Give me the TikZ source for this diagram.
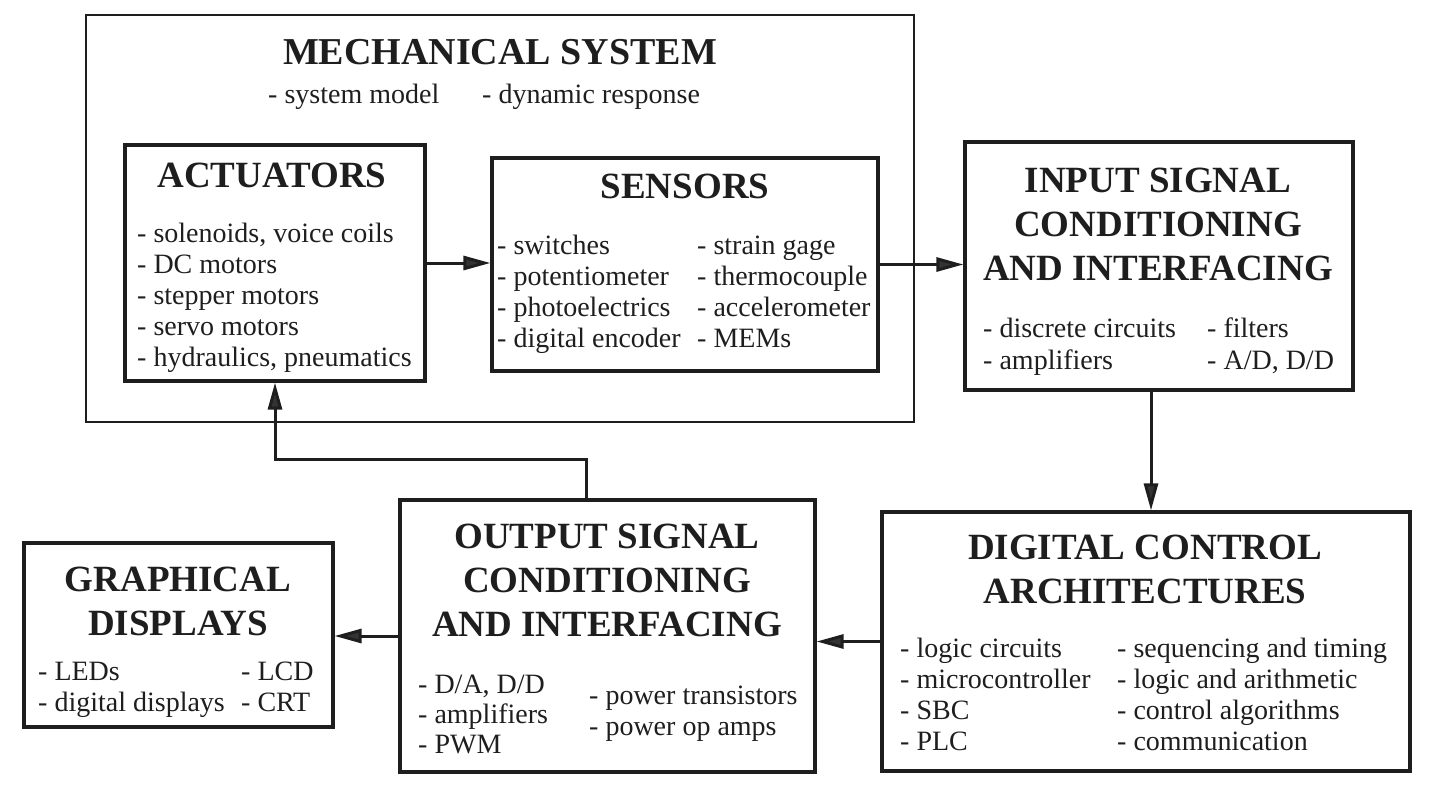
\documentclass[tikz,border=0pt]{standalone}
\usepackage{fontspec}
\setmainfont{Liberation Serif}
\usetikzlibrary{arrows.meta}
\definecolor{ink}{HTML}{1E1E1E}
\definecolor{headc}{HTML}{333333}
\begin{document}
\begin{tikzpicture}[x=1pt,y=-1pt,
  box/.style={draw=ink, line width=3.2pt, inner sep=0pt},
  mechbox/.style={draw=ink, line width=1.8pt, inner sep=0pt},
  ttl/.style={font=\fontsize{37}{44}\selectfont\bfseries, text=ink, inner sep=0pt, anchor=base},
  body/.style={font=\fontsize{28}{31}\selectfont, text=ink, inner sep=0pt, anchor=base west},
  arr/.style={draw=ink, line width=3pt, -{Triangle[length=27pt,width=14pt,fill=headc]}}]
\useasboundingbox (0,0) rectangle (1432,792);

% boxes
\node[mechbox, minimum width=828pt, minimum height=407pt] (mech) at (500,218.5) {};
\node[box, minimum width=300pt, minimum height=236pt] (act) at (275,263) {};
\node[box, minimum width=386pt, minimum height=213pt] (sen) at (685,264.5) {};
\node[box, minimum width=388pt, minimum height=248pt] (inp) at (1159,266) {};
\node[box, minimum width=528pt, minimum height=259pt] (dig) at (1146,641.5) {};
\node[box, minimum width=415pt, minimum height=272pt] (out) at (607.5,636) {};
\node[box, minimum width=309pt, minimum height=184pt] (gra) at (178.5,635) {};

% mechanical system texts
\node[ttl, font=\fontsize{38}{44}\selectfont\bfseries] (mechT) at (500,65) {MECHANICAL SYSTEM};
\node[body] (mechA) at (268,103) {- system model};
\node[body] (mechB) at (482,103) {- dynamic response};

% actuators
\node[ttl] (actT) at (272,187) {ACTUATORS};
\node[body] (actL) at (137,242) {\begin{tabular}[t]{@{}l@{}}- solenoids, voice coils\\- DC motors\\- stepper motors\\- servo motors\\- hydraulics, pneumatics\end{tabular}};

% sensors
\node[ttl] (senT) at (685,198) {SENSORS};
\node[body] (senL) at (497,254) {\begin{tabular}[t]{@{}l@{}}- switches\\- potentiometer\\- photoelectrics\\- digital encoder\end{tabular}};
\node[body] (senR) at (697,254) {\begin{tabular}[t]{@{}l@{}}- strain gage\\- thermocouple\\- accelerometer\\- MEMs\end{tabular}};

% input signal conditioning
\node[ttl] (inpT) at (1158,192) {\begin{tabular}[t]{@{}c@{}}INPUT SIGNAL\\CONDITIONING\\AND INTERFACING\end{tabular}};
\node[body, font=\fontsize{28}{32}\selectfont] (inpL) at (983,337) {\begin{tabular}[t]{@{}l@{}}- discrete circuits\\- amplifiers\end{tabular}};
\node[body, font=\fontsize{28}{32}\selectfont] (inpR) at (1207,337) {\begin{tabular}[t]{@{}l@{}}- filters\\- A/D, D/D\end{tabular}};

% digital control
\node[ttl] (digT) at (1145,559) {\begin{tabular}[t]{@{}c@{}}DIGITAL CONTROL\\ARCHITECTURES\end{tabular}};
\node[body] (digL) at (900,657) {\begin{tabular}[t]{@{}l@{}}- logic circuits\\- microcontroller\\- SBC\\- PLC\end{tabular}};
\node[body] (digR) at (1117,657) {\begin{tabular}[t]{@{}l@{}}- sequencing and timing\\- logic and arithmetic\\- control algorithms\\- communication\end{tabular}};

% output signal conditioning
\node[ttl] (outT) at (607,548) {\begin{tabular}[t]{@{}c@{}}OUTPUT SIGNAL\\CONDITIONING\\AND INTERFACING\end{tabular}};
\node[body, font=\fontsize{28}{30}\selectfont] (outL) at (418,693) {\begin{tabular}[t]{@{}l@{}}- D/A, D/D\\- amplifiers\\- PWM\end{tabular}};
\node[body] (outR) at (589,704) {\begin{tabular}[t]{@{}l@{}}- power transistors\\- power op amps\end{tabular}};

% graphical displays
\node[ttl] (graT) at (178,591) {\begin{tabular}[t]{@{}c@{}}GRAPHICAL\\DISPLAYS\end{tabular}};
\node[body] (graL) at (38,680) {\begin{tabular}[t]{@{}l@{}}- LEDs\\- digital displays\end{tabular}};
\node[body] (graR) at (241,680) {\begin{tabular}[t]{@{}l@{}}- LCD\\- CRT\end{tabular}};

% connectors
\coordinate (c3) at (1151,450);
\coordinate (fb) at (586,459);
\draw[arr] (act.east) -- (sen.west |- act.east);
\draw[arr] (sen.east) -- (inp.west |- sen.east);
\draw[arr] (inp.south -| c3) -- (dig.north -| c3);
\draw[arr] (dig.west) -- (out.east |- dig.west);
\draw[arr] (out.west) -- (gra.east |- out.west);
\draw[arr] (out.north -| fb) -- (fb) -| (act.south);
\end{tikzpicture}
\end{document}
